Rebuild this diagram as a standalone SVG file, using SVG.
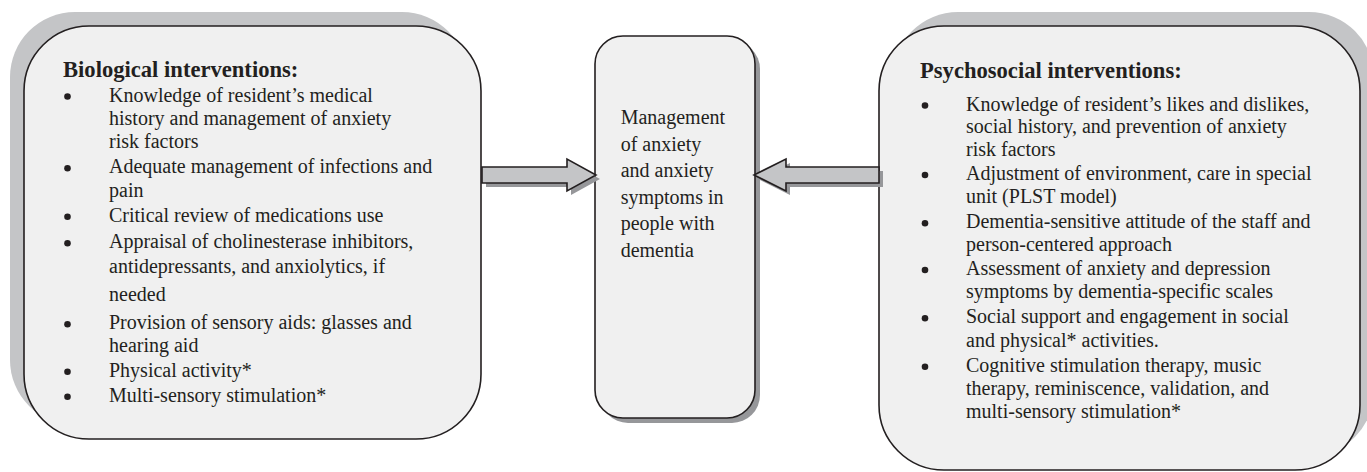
<svg xmlns="http://www.w3.org/2000/svg" width="1367" height="472" viewBox="0 0 1367 472">
<style>
.box{fill:#f0f0f0;stroke:#231f20;stroke-width:1.6}
.shadow{fill:#c4c5c7}
.dshadow{fill:#96979a}
.arrow{fill:#c4c5c7;stroke:#231f20;stroke-width:1.6;stroke-linejoin:miter}
.b{fill:#231f20}
text{font-family:"Liberation Serif","Times New Roman",serif;fill:#231f20}
.t{font-size:20px}
.h{font-size:22.6px;font-weight:bold}
</style>
<defs><circle id="dot" r="3.3"/></defs>
<rect width="1367" height="472" fill="#ffffff"/>
<g id="biological">
<rect class="shadow" x="10" y="12" width="457" height="413" rx="65" ry="65"/>
<rect class="box" x="24" y="26" width="457" height="413" rx="65" ry="65"/>
<text class="h" x="63" y="77">Biological interventions:</text>
<g class="b">
<use href="#dot" x="67.5" y="96.5"/>
<use href="#dot" x="67.5" y="168.3"/>
<use href="#dot" x="67.5" y="216.7"/>
<use href="#dot" x="67.5" y="243.3"/>
<use href="#dot" x="67.5" y="324.3"/>
<use href="#dot" x="67.5" y="371.7"/>
<use href="#dot" x="67.5" y="396.7"/>
</g>
<g class="t">
<text x="109" y="101.5">Knowledge of resident’s medical</text>
<text x="109" y="125">history and management of anxiety</text>
<text x="109" y="148.3">risk factors</text>
<text x="109" y="173.3">Adequate management of infections and</text>
<text x="109" y="196.7">pain</text>
<text x="109" y="221.7">Critical review of medications use</text>
<text x="109" y="248.3">Appraisal of cholinesterase inhibitors,</text>
<text x="109" y="273.3">antidepressants, and anxiolytics, if</text>
<text x="109" y="300.7">needed</text>
<text x="109" y="329.3">Provision of sensory aids: glasses and</text>
<text x="109" y="351.7">hearing aid</text>
<text x="109" y="376.7">Physical activity*</text>
<text x="109" y="401.7">Multi-sensory stimulation*</text>
</g>
</g>
<g id="management">
<rect class="dshadow" x="600" y="41" width="160" height="382" rx="28" ry="28"/>
<rect class="box" x="595" y="36" width="160" height="382" rx="28" ry="28"/>
<g class="t">
<text x="620.7" y="124.3">Management</text>
<text x="620.7" y="150.5">of anxiety</text>
<text x="620.7" y="177.3">and anxiety</text>
<text x="620.7" y="203.5">symptoms in</text>
<text x="620.7" y="230">people with</text>
<text x="620.7" y="257.3">dementia</text>
</g>
</g>
<g id="psychosocial">
<rect class="shadow" x="893" y="12" width="481" height="444" rx="65" ry="65"/>
<rect class="box" x="879" y="26" width="481" height="444" rx="65" ry="65"/>
<text class="h" x="920" y="78.3">Psychosocial interventions:</text>
<g class="b">
<use href="#dot" x="925" y="105.5"/>
<use href="#dot" x="925" y="175"/>
<use href="#dot" x="925" y="223.3"/>
<use href="#dot" x="925" y="270"/>
<use href="#dot" x="925" y="318.3"/>
<use href="#dot" x="925" y="366.7"/>
</g>
<g class="t">
<text x="966" y="110.5">Knowledge of resident’s likes and dislikes,</text>
<text x="966" y="133.3">social history, and prevention of anxiety</text>
<text x="966" y="155.5">risk factors</text>
<text x="966" y="180">Adjustment of environment, care in special</text>
<text x="966" y="203.3">unit (PLST model)</text>
<text x="966" y="228.3">Dementia-sensitive attitude of the staff and</text>
<text x="966" y="251">person-centered approach</text>
<text x="966" y="275">Assessment of anxiety and depression</text>
<text x="966" y="298.3">symptoms by dementia-specific scales</text>
<text x="966" y="323.3">Social support and engagement in social</text>
<text x="966" y="346.7">and physical* activities.</text>
<text x="966" y="371.7">Cognitive stimulation therapy, music</text>
<text x="966" y="395">therapy, reminiscence, validation, and</text>
<text x="966" y="418.3">multi-sensory stimulation*</text>
</g>
</g>
<g id="connectors">
<polygon class="dshadow" transform="translate(4,4)" points="482,167 567,167 567,159 596,175 567,191 567,183 482,183"/>
<polygon class="arrow" points="482,167 567,167 567,159 596,175 567,191 567,183 482,183"/>
<polygon class="dshadow" transform="translate(4,4)" points="879,167 786,167 786,159 754,175 786,191 786,183 879,183"/>
<polygon class="arrow" points="879,167 786,167 786,159 754,175 786,191 786,183 879,183"/>
</g>
</svg>
